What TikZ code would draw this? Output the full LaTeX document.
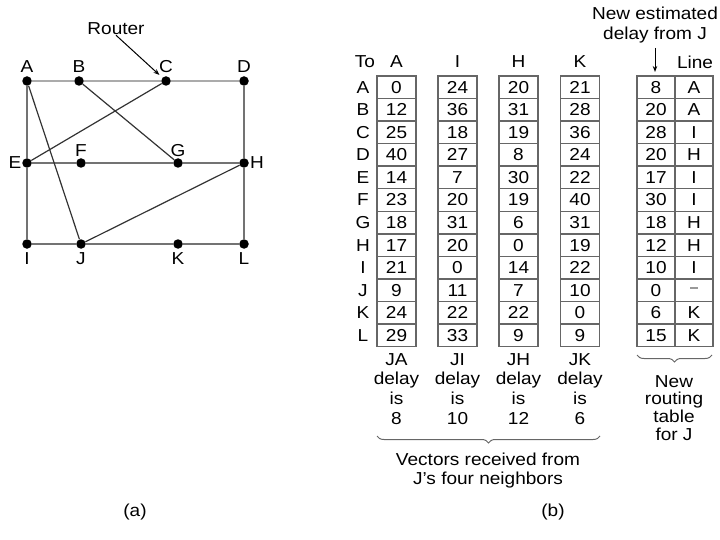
\documentclass[tikz,border=0pt]{standalone}
\usepackage{fontspec}
\setmainfont{Liberation Sans}[FakeStretch=1.1]
\usetikzlibrary{decorations.pathreplacing,arrows.meta}
\begin{document}
\begin{tikzpicture}[x=1pt,y=-1pt,
  font=\fontsize{17.3}{19.5}\selectfont,
  dot/.style={circle,fill=black,inner sep=0pt,minimum size=9.5pt},
  lbl/.style={inner sep=0pt},
  edgelight/.style={draw=black!33,line width=2pt},
  edgemid/.style={draw=black!55,line width=2pt},
  diag/.style={draw=black!80,line width=1.2pt},
  cell/.style={draw=black!60,line width=1.4pt,minimum width=39pt,minimum height=22.55pt,inner sep=0pt},
  bracestyle/.style={draw=black!60,line width=1pt,decorate,decoration={brace,mirror,amplitude=7pt}},
  arr/.style={-{Stealth[length=6pt,width=4.5pt]},line width=1pt}
]
\useasboundingbox (0,0) rectangle (720,540);
% ---------- (a) graph ----------
\node[dot] (A) at (27,81) {};
\node[dot] (B) at (79,81) {};
\node[dot] (C) at (166,81) {};
\node[dot] (D) at (244,81) {};
\node[dot] (E) at (27,163) {};
\node[dot] (F) at (81,163) {};
\node[dot] (G) at (178,163) {};
\node[dot] (H) at (244,163) {};
\node[dot] (I) at (27,244) {};
\node[dot] (J) at (81,244) {};
\node[dot] (K) at (178,244) {};
\node[dot] (L) at (244,244) {};
\draw[edgelight] (A) -- (B) -- (C) -- (D);
\draw[edgemid] (D) -- (H) -- (L);
\draw[edgemid] (A) -- (E) -- (I);
\draw[edgemid] (E) -- (F) -- (G) -- (H);
\draw[edgemid] (I) -- (J) -- (K) -- (L);
\draw[diag] (A) -- (J);
\draw[diag] (E) -- (C);
\draw[diag] (B) -- (G);
\draw[diag] (J) -- (H);
\node[lbl] (tA) at (27,67) {A};
\node[lbl] (tB) at (79,67) {B};
\node[lbl] (tC) at (166,67) {C};
\node[lbl] (tD) at (244,67) {D};
\node[lbl] (tE) at (15,163) {E};
\node[lbl] (tF) at (81,151) {F};
\node[lbl] (tG) at (178,151) {G};
\node[lbl] (tH) at (257,163) {H};
\node[lbl] (tI) at (27,259) {I};
\node[lbl] (tJ) at (81,259) {J};
\node[lbl] (tK) at (178,259) {K};
\node[lbl] (tL) at (244,259) {L};
\node[lbl] (router) at (116,29) {Router};
\draw[arr] (router.south) -- (C) [shorten >=4pt];
\node[lbl] (capa) at (135,516) [anchor=base] {(a)};
% ---------- (b) tables ----------
\node[lbl] (hTo) at (365,62) {To};
\foreach \r [count=\i] in {A,B,C,D,E,F,G,H,I,J,K,L}
  \node[lbl] (row\r) at ({363},{76+22.55*(\i-0.5)}) {\r};
\foreach \c/\cx/\vals in {
    A/396.5/{0,12,25,40,14,23,18,17,21,9,24,29},
    I/457.5/{24,36,18,27,7,20,31,20,0,11,22,33},
    H/518.5/{20,31,19,8,30,19,6,0,14,7,22,9},
    K/580/{21,28,36,24,22,40,31,19,22,10,0,9}} {
  \node[lbl] (head\c) at (\cx,62) {\c};
  \foreach \v [count=\i] in \vals
    \node[cell] (c\c\i) at ({\cx},{76+22.55*(\i-0.5)}) {\v};
}
\foreach \v [count=\i] in {8,20,28,20,17,30,18,12,10,0,6,15}
  \node[cell,minimum width=38pt] (nd\i) at ({656},{76+22.55*(\i-0.5)}) {\v};
\foreach \v [count=\i] in {A,A,I,H,I,I,H,H,I,{\textcolor{black!40}{\rule[0.28em]{0.45em}{1.6pt}}},K,K}
  \node[cell,minimum width=38pt] (nl\i) at ({694},{76+22.55*(\i-0.5)}) {\v};
\node[lbl] (hLine) at (695,62) {Line};
\node[lbl,anchor=north,align=center,font=\fontsize{17.3}{20}\selectfont] (newest) at (655,7) {New estimated\\delay from J};
\coordinate (arrtop) at (655,48);
\coordinate (arrbot) at (655,72);
\draw[arr] (arrtop) -- (arrbot);
% bottom labels
\foreach \c/\cx/\txt in {A/396.5/{JA\\delay\\is\\8}, I/457.5/{JI\\delay\\is\\10},
    H/518.5/{JH\\delay\\is\\12}, K/580/{JK\\delay\\is\\6}}
  \node[lbl,anchor=north,align=center,font=\fontsize{17.3}{19.7}\selectfont] (d\c) at (\cx,353) {\txt};
\coordinate (b1l) at (377,436);
\coordinate (b1r) at (600,436);
\draw[bracestyle] (b1l) -- (b1r);
\node[lbl,anchor=north,align=center,font=\fontsize{17.3}{19}\selectfont] (vectors) at (488,453) {Vectors received from\\J's four neighbors};
\coordinate (b2l) at (637,355);
\coordinate (b2r) at (712,355);
\draw[bracestyle] (b2l) -- (b2r);
\node[lbl,anchor=north,align=center,font=\fontsize{17.3}{17.8}\selectfont] (newtab) at (674,375) {New\\routing\\table\\for J};
\node[lbl] (capb) at (553,516) [anchor=base] {(b)};
\end{tikzpicture}
\end{document}
